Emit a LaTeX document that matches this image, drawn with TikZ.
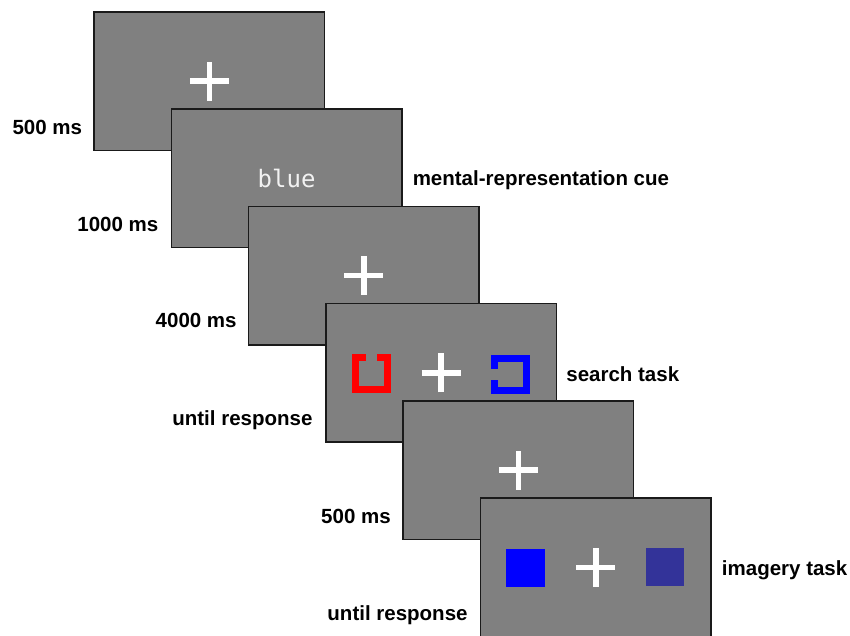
\documentclass[tikz,border=0pt]{standalone}
\usepackage{fontspec}
\setmainfont{Liberation Sans}
\newfontfamily\cuemono{DejaVu Sans Mono}
\definecolor{panelgray}{RGB}{128,128,128}
\definecolor{panelborder}{RGB}{26,26,26}
\definecolor{cuered}{RGB}{255,0,0}
\definecolor{cueblue}{RGB}{0,0,255}
\definecolor{darkblue}{RGB}{51,51,153}
\definecolor{cuewhite}{RGB}{242,242,242}
\tikzset{
  panel/.style={draw=panelborder, line width=1.5pt, fill=panelgray, rectangle,
    inner sep=0pt, minimum width=230.5pt, minimum height=138.5pt},
  lab/.style={inner sep=0pt, font=\fontsize{20.5}{24}\selectfont\bfseries, text=black},
  leftlab/.style={lab, anchor=base east},
  rightlab/.style={lab, anchor=base west},
  crossline/.style={draw=white, line width=5.5pt},
  bracket/.style={line width=7pt, line join=miter, line cap=butt},
  sq/.style={rectangle, inner sep=0pt, minimum size=38.5pt, draw=none},
  cuetext/.style={inner sep=0pt, anchor=base, text=cuewhite, font=\cuemono\fontsize{24}{28}\selectfont}
}
\newcommand\fixcross[1]{%
  \draw[crossline] ([xshift=-19.5pt]#1) -- ([xshift=19.5pt]#1);
  \draw[crossline] ([yshift=-19.5pt]#1) -- ([yshift=19.5pt]#1);}
\begin{document}
\begin{tikzpicture}[x=1pt,y=-1pt]
\useasboundingbox (0,0) rectangle (850,636);
% panel 0: fixation
\node[panel] (p0) at (209.25,81.25) {};
\coordinate (c0) at (p0.center);
\fixcross{c0}
\node[leftlab] (t0) at ([xshift=-11pt,yshift=17pt]p0.south west) {500 ms};
% panel 1: cue
\node[panel] (p1) at (286.55,178.45) {};
\node[cuetext] (cue) at ([yshift=-8.9pt]p1.center) {blue};
\node[leftlab] (t1) at ([xshift=-12pt,yshift=17pt]p1.south west) {1000 ms};
\node[rightlab] (r1) at ([xshift=10pt,yshift=-6.8pt]p1.east) {mental-representation cue};
% panel 2: fixation
\node[panel] (p2) at (363.85,275.65) {};
\coordinate (c2) at (p2.center);
\fixcross{c2}
\node[leftlab] (t2) at ([xshift=-11pt,yshift=18pt]p2.south west) {4000 ms};
% panel 3: search
\node[panel] (p3) at (441.15,372.85) {};
\coordinate (c3) at (p3.center);
\fixcross{c3}
\coordinate (rb) at ([xshift=-70pt,yshift=-0.5pt]p3.center);
\coordinate (bb) at ([xshift=69pt,yshift=-1.3pt]p3.center);
\draw[bracket, draw=cuered] ([xshift=-5.5pt,yshift=16pt]rb) -- ([xshift=-16pt,yshift=16pt]rb)
  -- ([xshift=-16pt,yshift=-16pt]rb) -- ([xshift=16pt,yshift=-16pt]rb)
  -- ([xshift=16pt,yshift=16pt]rb) -- ([xshift=5.5pt,yshift=16pt]rb);
\draw[bracket, draw=cueblue] ([xshift=-16pt,yshift=5.5pt]bb) -- ([xshift=-16pt,yshift=16pt]bb)
  -- ([xshift=16pt,yshift=16pt]bb) -- ([xshift=16pt,yshift=-16pt]bb)
  -- ([xshift=-16pt,yshift=-16pt]bb) -- ([xshift=-16pt,yshift=-5.5pt]bb);
\node[leftlab] (t3) at ([xshift=-12.5pt,yshift=17pt]p3.south west) {until response};
\node[rightlab] (r3) at ([xshift=9pt,yshift=-8.6pt]p3.east) {search task};
% panel 4: fixation
\node[panel] (p4) at (518.45,470.05) {};
\coordinate (c4) at (p4.center);
\fixcross{c4}
\node[leftlab] (t4) at ([xshift=-11.5pt,yshift=17pt]p4.south west) {500 ms};
% panel 5: imagery
\node[panel] (p5) at (595.75,567.25) {};
\coordinate (c5) at (p5.center);
\fixcross{c5}
\node[sq, fill=cueblue] (s1) at ([xshift=-70.4pt,yshift=-0.75pt]p5.center) {};
\node[sq, fill=darkblue] (s2) at ([xshift=69pt,yshift=0.5pt]p5.center) {};
\node[leftlab] (t5) at ([xshift=-12pt,yshift=17pt]p5.south west) {until response};
\node[rightlab] (r5) at ([xshift=10pt,yshift=-7.75pt]p5.east) {imagery task};
\end{tikzpicture}
\end{document}
